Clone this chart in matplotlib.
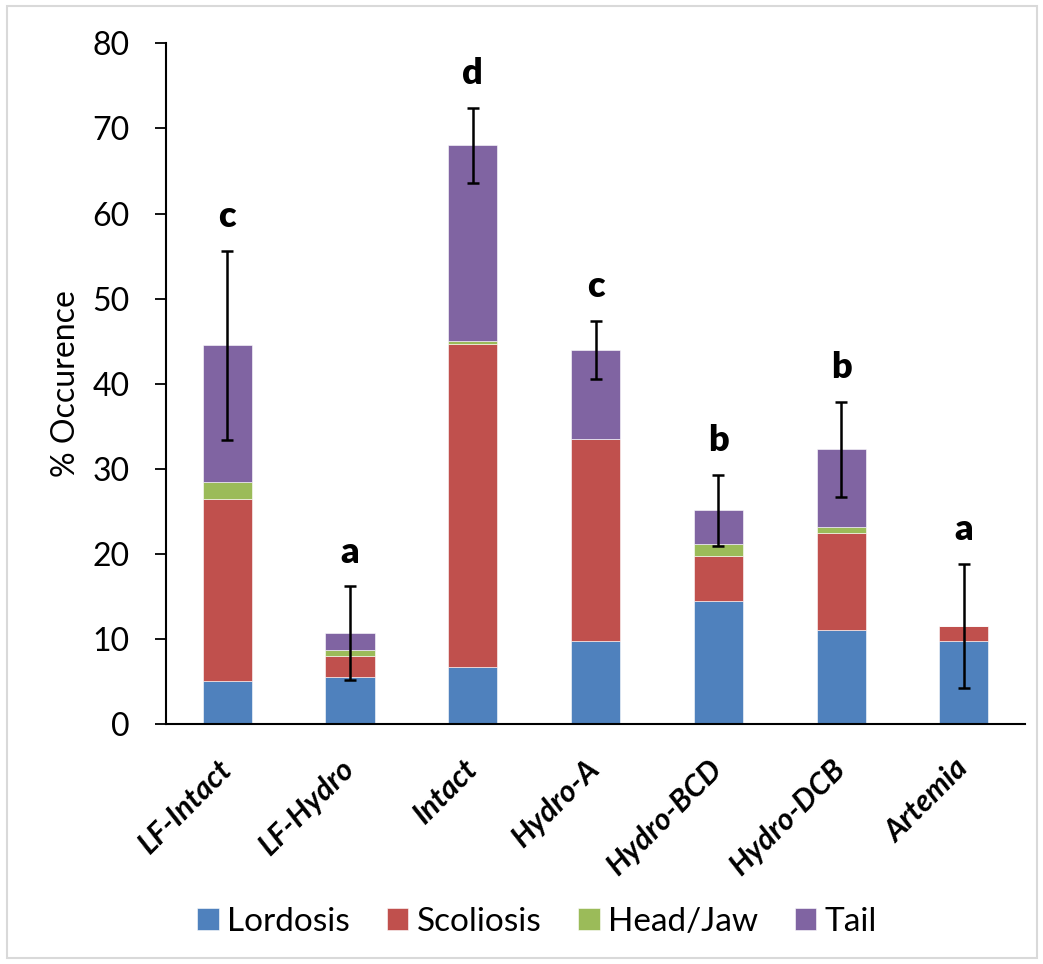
import matplotlib
matplotlib.use("Agg")
import matplotlib.pyplot as plt
import numpy as np
from matplotlib.patches import Rectangle

# Deformity occurrence per diet group, stacked by deformity type
groups = ["LF-Intact", "LF-Hydro", "Intact", "Hydro-A", "Hydro-BCD", "Hydro-DCB", "Artemia"]
lordosis = [5.1, 5.5, 6.7, 9.8, 14.4, 11.1, 9.8]
scoliosis = [21.4, 2.5, 38.0, 23.7, 5.3, 11.3, 1.7]
head_jaw = [2.0, 0.7, 0.3, 0.0, 1.4, 0.7, 0.0]
tail = [16.0, 2.0, 23.0, 10.5, 4.0, 9.2, 0.0]
total_err = [11.1, 5.5, 4.4, 3.4, 4.2, 5.6, 7.3]
sig_letters = ["c", "a", "d", "c", "b", "b", "a"]

series = [
    ("Lordosis", lordosis, "#4F81BD"),
    ("Scoliosis", scoliosis, "#C0504D"),
    ("Head/Jaw", head_jaw, "#9BBB59"),
    ("Tail", tail, "#8064A2"),
]

plt.rcParams["font.family"] = ["Lato", "DejaVu Sans"]

fig = plt.figure(figsize=(10.43, 9.64), dpi=100)
ax = fig.add_axes([0.159, 0.249, 0.824, 0.706])

x = np.arange(len(groups))
bottom = np.zeros(len(groups))
for name, vals, color in series:
    vals = np.asarray(vals, dtype=float)
    ax.bar(x, vals, width=0.4, bottom=bottom, color=color, label=name,
           edgecolor="white", linewidth=0.4, zorder=2)
    bottom += vals

ax.errorbar(x, bottom, yerr=total_err, fmt="none", ecolor="black",
            elinewidth=1.8, capsize=4.2, capthick=1.8, zorder=3)

for xi, top, err, letter in zip(x, bottom, total_err, sig_letters):
    ax.annotate(letter, (xi, top + err), xytext=(0, 17), textcoords="offset points",
                ha="center", va="baseline", fontsize=26, fontweight="heavy")

ax.set_xlim(-0.5, len(groups) - 0.5)
ax.set_ylim(0, 80)
ax.set_yticks(np.arange(0, 81, 10))
ax.tick_params(axis="y", direction="out", length=8, width=1.3, labelsize=23, pad=18)
ax.tick_params(axis="x", length=0, pad=29)
ax.set_xticks(x)
ax.set_xticklabels(groups, rotation=45, ha="right", va="center", rotation_mode="anchor",
                   fontsize=22, fontweight="bold", fontstyle="italic")
ax.set_ylabel("% Occurence", fontsize=23, labelpad=8)

for side in ("top", "right"):
    ax.spines[side].set_visible(False)
for side in ("left", "bottom"):
    ax.spines[side].set_linewidth(1.5)

fig.legend(loc="center", bbox_to_anchor=(0.515, 0.044), ncol=4, frameon=False,
           fontsize=24, handlelength=0.65, handleheight=0.65, handletextpad=0.25,
           columnspacing=1.1)

# light grey frame round the chart area
fig.patches.append(Rectangle((7 / 1043, 6 / 964), 1030 / 1043, 952 / 964,
                             transform=fig.transFigure, fill=False,
                             edgecolor="#d9d9d9", linewidth=1.5))

fig.savefig("out.png", dpi=100)
